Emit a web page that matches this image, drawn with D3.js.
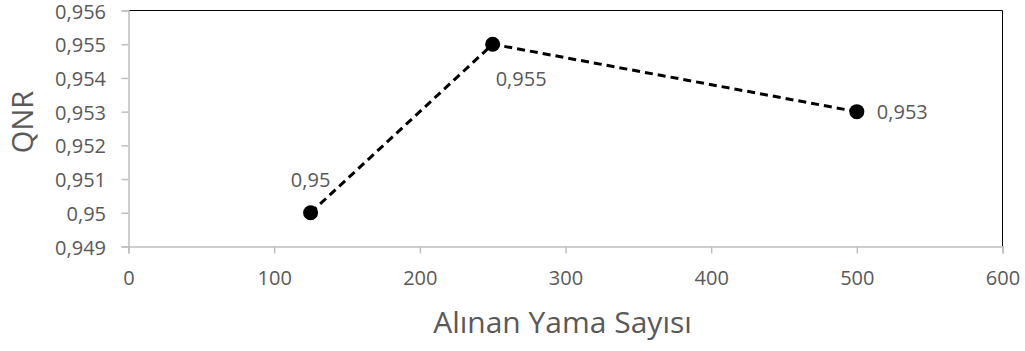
<!DOCTYPE html>
<html><head><meta charset="utf-8">
<script src="https://cdn.jsdelivr.net/npm/d3@7"></script>
<style>body{margin:0;background:#fff}</style>
</head><body>
<svg id="c" width="1025" height="351"></svg>
<script>
const xValues = [125, 250, 500];
const yValues = [0.95, 0.955, 0.953];
const pointLabels = ["0,95", "0,955", "0,953"];
const xTicks = [0, 100, 200, 300, 400, 500, 600];
const yTicks = [0.949, 0.95, 0.951, 0.952, 0.953, 0.954, 0.955, 0.956];
const xTitle = "Alınan Yama Sayısı";
const yTitle = "QNR";

const svg = d3.select("#c");
const m = {l:128.5, r:1002.5, t:10.5, b:246.5};
const x = d3.scaleLinear().domain([0,600]).range([m.l, m.r]);
const y = d3.scaleLinear().domain([0.949,0.956]).range([m.b, m.t]);
const font = "'Open Sans', sans-serif";
const fmt = v => String(v).replace(".", ",");

// frame top/right
svg.append("path").attr("d", `M${m.l},${m.t}H${m.r}V${m.b}`).attr("fill","none").attr("stroke","#000").attr("stroke-width",1);

const gx = svg.append("g").attr("transform", `translate(0,${m.b})`)
  .call(d3.axisBottom(x).tickValues(xTicks).tickSize(7).tickPadding(17).tickFormat(d=>d));
const gy = svg.append("g").attr("transform", `translate(${m.l},0)`)
  .call(d3.axisLeft(y).tickValues(yTicks).tickSize(7).tickPadding(15.5).tickFormat(fmt));
gy.selectAll("text").attr("dy","0.38em");
[gx, gy].forEach(g => {
  g.selectAll(".domain").attr("stroke","#bfbfbf").attr("stroke-width",1.5);
  g.selectAll(".tick line").attr("stroke","#bfbfbf").attr("stroke-width",1.5);
  g.selectAll("text").attr("fill","#595959").style("font-family",font).style("font-size","20px");
});

const data = xValues.map((v,i)=>({x:v, y:yValues[i], label:pointLabels[i]}));
svg.append("path").datum(data)
  .attr("d", d3.line().x(d=>x(d.x)).y(d=>y(d.y)))
  .attr("fill","none").attr("stroke","#000").attr("stroke-width",3).attr("stroke-dasharray","8,5");
svg.selectAll("circle.pt").data(data).join("circle")
  .attr("cx", d=>x(d.x)).attr("cy", d=>y(d.y)).attr("r", 7.5).attr("fill","#000");

const off = [[0,-26,"middle"],[3,41.5,"start"],[20,7,"start"]];
svg.selectAll("text.lbl").data(data).join("text")
  .attr("x", (d,i)=>x(d.x)+off[i][0]).attr("y", (d,i)=>y(d.y)+off[i][1])
  .attr("text-anchor", (d,i)=>off[i][2])
  .attr("fill","#595959").style("font-family",font).style("font-size","20px")
  .text(d=>d.label);

svg.append("text").attr("x", 562.5).attr("y", 333).attr("text-anchor","middle")
  .attr("fill","#595959").style("font-family",font).style("font-size","30px").text(xTitle);
svg.append("text").attr("transform", `translate(33,122) rotate(-90)`).attr("text-anchor","middle")
  .attr("fill","#595959").style("font-family",font).style("font-size","29px").text(yTitle);
</script>
</body></html>
